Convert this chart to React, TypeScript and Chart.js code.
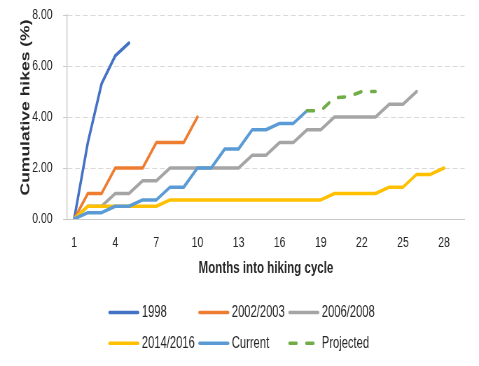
import React, { useEffect, useRef } from "react";
import { Chart, registerables } from "chart.js";

Chart.register(...registerables);

// ---- data ----
const months = [
  "1", "2", "3", "4", "5", "6", "7", "8", "9", "10",
  "11", "12", "13", "14", "15", "16", "17", "18", "19", "20",
  "21", "22", "23", "24", "25", "26", "27", "28", "29",
];
const xTickEvery = 3;
const yMin = 0;
const yMax = 8;
const yStep = 2;

const seriesLabels = ["1998", "2002/2003", "2006/2008", "2014/2016", "Current", "Projected"];

const values1998 = [0, 3.0, 5.3, 6.4, 6.9];
const values2002 = [0, 1, 1, 2, 2, 2, 3, 3, 3, 4];
const values2006 = [
  0, 0.5, 0.5, 1, 1, 1.5, 1.5, 2, 2, 2, 2, 2, 2, 2.5, 2.5, 3, 3, 3.5, 3.5, 4, 4, 4, 4, 4.5, 4.5, 5,
];
const values2014 = [
  0, 0.5, 0.5, 0.5, 0.5, 0.5, 0.5, 0.75, 0.75, 0.75, 0.75, 0.75, 0.75, 0.75, 0.75, 0.75, 0.75,
  0.75, 0.75, 1, 1, 1, 1, 1.25, 1.25, 1.75, 1.75, 2,
];
const valuesCurrent = [
  0, 0.25, 0.25, 0.5, 0.5, 0.75, 0.75, 1.25, 1.25, 2, 2, 2.75, 2.75, 3.5, 3.5, 3.75, 3.75, 4.25,
];
const valuesProjected = [
  null, null, null, null, null, null, null, null, null, null, null, null, null, null, null, null,
  null, 4.25, 4.25, 4.75, 4.8, 5.0, 5.0,
];

const xTitle = "Months into hiking cycle";
const yTitle = "Cumulative hikes (%)";

// ---- layout helpers (horizontal condensing like the reference) ----
const W = 684;
const H = 366;
const S = 479 / W;
const L = (x: number) => x / S;
const FONT = '"Liberation Sans", Arial, sans-serif';
const TEXT = "#262626";

const customPlugin = {
  id: "customDecor",
  afterDraw(chart: any) {
    const ctx = chart.ctx as CanvasRenderingContext2D;
    // y axis title
    ctx.save();
    ctx.translate(L(26), 107.5);
    ctx.rotate(-Math.PI / 2);
    ctx.font = `bold 17.5px ${FONT}`;
    ctx.fillStyle = TEXT;
    ctx.textAlign = "center";
    ctx.textBaseline = "middle";
    ctx.fillText(yTitle, 0, 0);
    ctx.restore();

    // legend
    const cols = [L(108.3), L(198.3), L(288.3)];
    const rows = [312.5, 343.3];
    chart.data.datasets.forEach((ds: any, i: number) => {
      const x = cols[i % 3];
      const y = rows[Math.floor(i / 3)];
      ctx.save();
      ctx.strokeStyle = ds.borderColor;
      ctx.lineWidth = 3.5;
      ctx.lineCap = "round";
      ctx.setLineDash(ds.borderDash || []);
      ctx.beginPath();
      ctx.moveTo(x + 1.75, y);
      ctx.lineTo(x + L(31) - 1.75, y);
      ctx.stroke();
      ctx.setLineDash([]);
      ctx.font = `16px ${FONT}`;
      ctx.fillStyle = TEXT;
      ctx.textAlign = "left";
      ctx.textBaseline = "middle";
      ctx.fillText(ds.label, x + L(33.5), y);
      ctx.restore();
    });
  },
};

function makeDataset(label: string, data: (number | null)[], color: string, order: number, dash?: number[]) {
  return {
    label,
    data,
    borderColor: color,
    backgroundColor: color,
    borderWidth: 3.5,
    borderDash: dash || [],
    borderCapStyle: "round" as const,
    borderJoinStyle: "round" as const,
    pointRadius: 0,
    pointHoverRadius: 0,
    tension: 0,
    fill: false,
    spanGaps: false,
    order,
  };
}

export default function App() {
  const canvasRef = useRef<HTMLCanvasElement | null>(null);

  useEffect(() => {
    if (!canvasRef.current) return;
    const chart = new Chart(canvasRef.current, {
      type: "line",
      data: {
        labels: months,
        datasets: [
          makeDataset(seriesLabels[0], values1998, "#4472C4", 6),
          makeDataset(seriesLabels[1], values2002, "#ED7D31", 5),
          makeDataset(seriesLabels[2], values2006, "#A5A5A5", 4),
          makeDataset(seriesLabels[3], values2014, "#FFC000", 3),
          makeDataset(seriesLabels[4], valuesCurrent, "#5B9BD5", 2),
          makeDataset(seriesLabels[5], valuesProjected, "#70AD47", 1, [10, 14]),
        ],
      },
      options: {
        responsive: false,
        animation: false,
        devicePixelRatio: 1,
        events: [],
        layout: {
          padding: { top: 15, right: W - L(464.6), bottom: 84, left: 0 },
        },
        plugins: {
          legend: { display: false },
          tooltip: { enabled: false },
          title: { display: false },
        },
        scales: {
          x: {
            type: "category",
            offset: true,
            grid: { display: false, drawTicks: false },
            border: { display: true, color: "#C8C8C8", width: 1 },
            ticks: {
              autoSkip: false,
              maxRotation: 0,
              minRotation: 0,
              padding: 15,
              color: TEXT,
              font: { family: FONT, size: 15 },
              callback: (_v: any, i: number) => (i % xTickEvery === 0 ? months[i] : ""),
            },
            title: {
              display: true,
              text: xTitle,
              color: TEXT,
              font: { family: FONT, size: 16.5, weight: "bold" },
              padding: { top: 0, bottom: 4 },
            },
            afterFit: (scale: any) => {
              scale.height = 63;
              scale.paddingLeft = 0;
              scale.paddingRight = 0;
            },
          },
          y: {
            min: yMin,
            max: yMax,
            grid: {
              color: "#D9D9D9",
              lineWidth: 1,
              drawTicks: true,
              tickLength: 6,
              tickColor: "#C8C8C8",
              tickWidth: 1,
            },
            border: { display: true, color: "#C8C8C8", width: 1.4, dash: [7, 4] },
            ticks: {
              stepSize: yStep,
              padding: 15,
              color: TEXT,
              font: { family: FONT, size: 15 },
              callback: (v: any) => Number(v).toFixed(2),
            },
            title: { display: false },
            afterFit: (scale: any) => {
              scale.width = L(67.3);
              scale.paddingTop = 0;
              scale.paddingBottom = 0;
            },
          },
        },
      },
      plugins: [customPlugin],
    } as any);
    return () => chart.destroy();
  }, []);

  return (
    <div
      style={{
        position: "fixed",
        left: 0,
        top: 0,
        width: 479,
        height: 366,
        overflow: "hidden",
        background: "#ffffff",
      }}
    >
      <div style={{ width: W, height: H, transform: `scaleX(${S})`, transformOrigin: "0 0" }}>
        <canvas ref={canvasRef} width={W} height={H} />
      </div>
    </div>
  );
}
